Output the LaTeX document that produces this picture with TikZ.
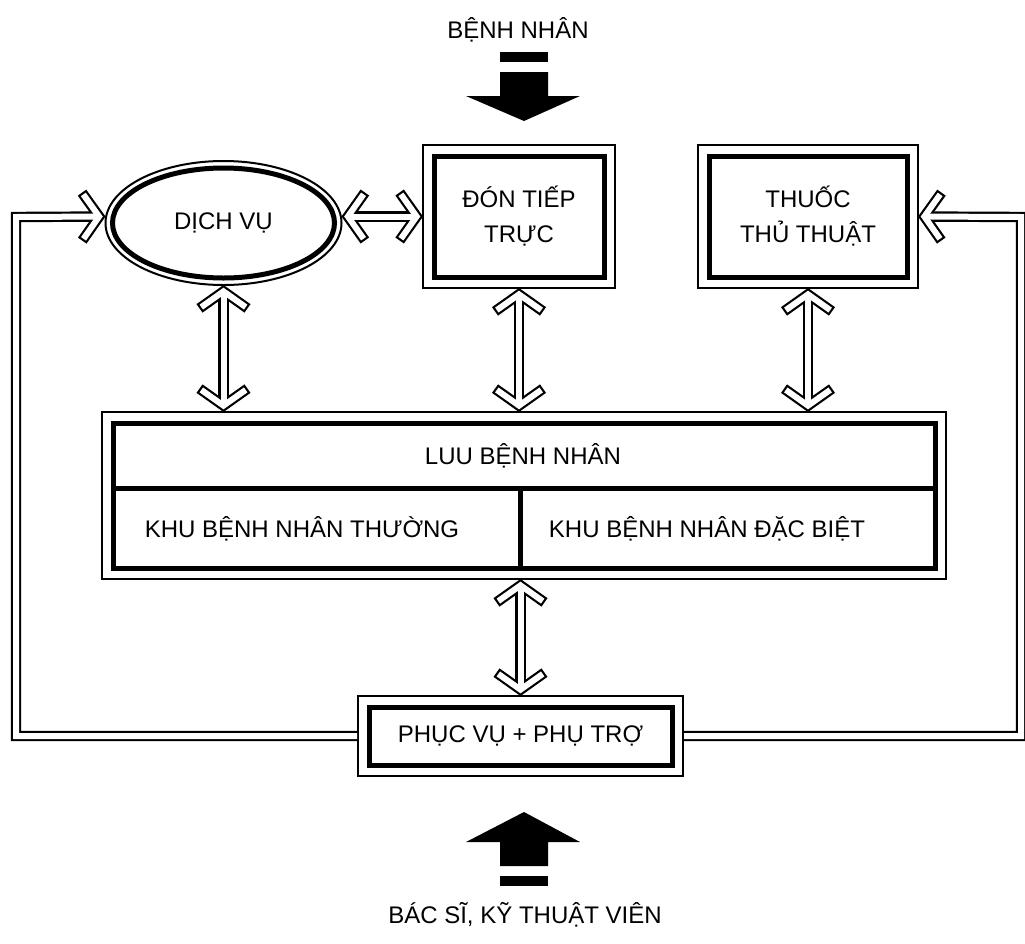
\documentclass[tikz,border=0pt]{standalone}
\usepackage{fontspec}
\setmainfont{Liberation Sans}
\usetikzlibrary{arrows.meta,shapes.geometric}

\tikzset{
  boxed/.style={draw, line width=5pt, inner sep=0pt, outer sep=11pt, align=center},
  ring/.style={ellipse, draw, line width=5pt, inner sep=0pt, outer sep=7pt},
  thinframe/.style={line width=2pt},
  chevron/.tip={Straight Barb[sharp,length=17pt,width=48pt]},
  chevronin/.tip={Straight Barb[sharp,length=15.7pt,width=44.4pt]},
  link/.style={draw=white, line width=6pt, line join=miter, shorten >=2.7pt, shorten <=2.7pt},
  outline/.style={draw=black, line width=10.4pt, shorten >=0pt, shorten <=0pt},
  twoway/.style={link, {chevronin}-{chevronin},
    preaction={outline, {chevron}-{chevron}}},
  oneway/.style={link, -{chevronin}, shorten <=1pt,
    preaction={outline, -{chevron}}}
}

\begin{document}
\begin{tikzpicture}[x=1pt, y=-1pt, font=\fontsize{24}{35}\selectfont]
  % Paths, nodes and links:
  \fill[white] (0,0) rectangle (1025,943);
  \useasboundingbox (0,0) rectangle (1025,943);
  \node (bn) at (518,30) {BỆNH NHÂN};
  \node[ring, minimum width=222pt, minimum height=110pt] (dv) at (223.5,223) {DỊCH VỤ};
  \node[boxed, minimum width=170pt, minimum height=121pt] (dn) at (519,216.5) {ĐÓN TIẾP\\TRỰC};
  \node[boxed, minimum width=198pt, minimum height=121pt] (th) at (808,216.5) {THUỐC\\THỦ THUẬT};
  \node[boxed, minimum width=822pt, minimum height=145pt] (lb) at (524,495.5) {};
  \node (luu) at (523,456) {LUU BỆNH NHÂN};
  \node (kt) at (302,529) {KHU BỆNH NHÂN THƯỜNG};
  \node (kd) at (707,529) {KHU BỆNH NHÂN ĐẶC BIỆT};
  \node[boxed, minimum width=303pt, minimum height=58pt] (pv) at (520.5,736) {PHỤC VỤ + PHỤ TRỢ};
  \node (bs) at (525,915) {BÁC SĨ, KỸ THUẬT VIÊN};
  % outer frames and partitions
  \draw[thinframe] (dv.center) ellipse [x radius=118pt, y radius=62pt];
  \foreach \n in {dn,th,lb,pv}
    \draw[thinframe] (\n.north west) rectangle (\n.south east);
  \draw[line width=5pt] (113,488) -- (935,488);
  \draw[line width=5pt] (520,488) -- (520,568);
  % black arrows in and out
  \fill (500,52) rectangle (548,62);
  \fill (500,72) -- (548,72) -- (548,96) -- (580,96) -- (524,121) -- (466,96) -- (500,96) -- cycle;
  \fill (500,876) rectangle (548,886);
  \fill (500,866) -- (548,866) -- (548,842) -- (580,842) -- (524,812) -- (466,842) -- (500,842) -- cycle;
  % links
  \coordinate (lc) at (16,217);
  \coordinate (rc) at (1021,217);
  \draw[twoway] (dv.east |- dn.west) -- (dn.west);
  \draw[twoway] (dv.south) -- (dv.south |- lb.north);
  \draw[twoway] (dn.south) -- (dn.south |- lb.north);
  \draw[twoway] (th.south) -- (th.south |- lb.north);
  \draw[twoway] (pv.north |- lb.south) -- (pv.north);
  \draw[oneway] (pv.west) -| (lc) -- (dv.west |- dn.west);
  \draw[oneway] (pv.east) -| (rc) -- (th.east);
\end{tikzpicture}
\end{document}
